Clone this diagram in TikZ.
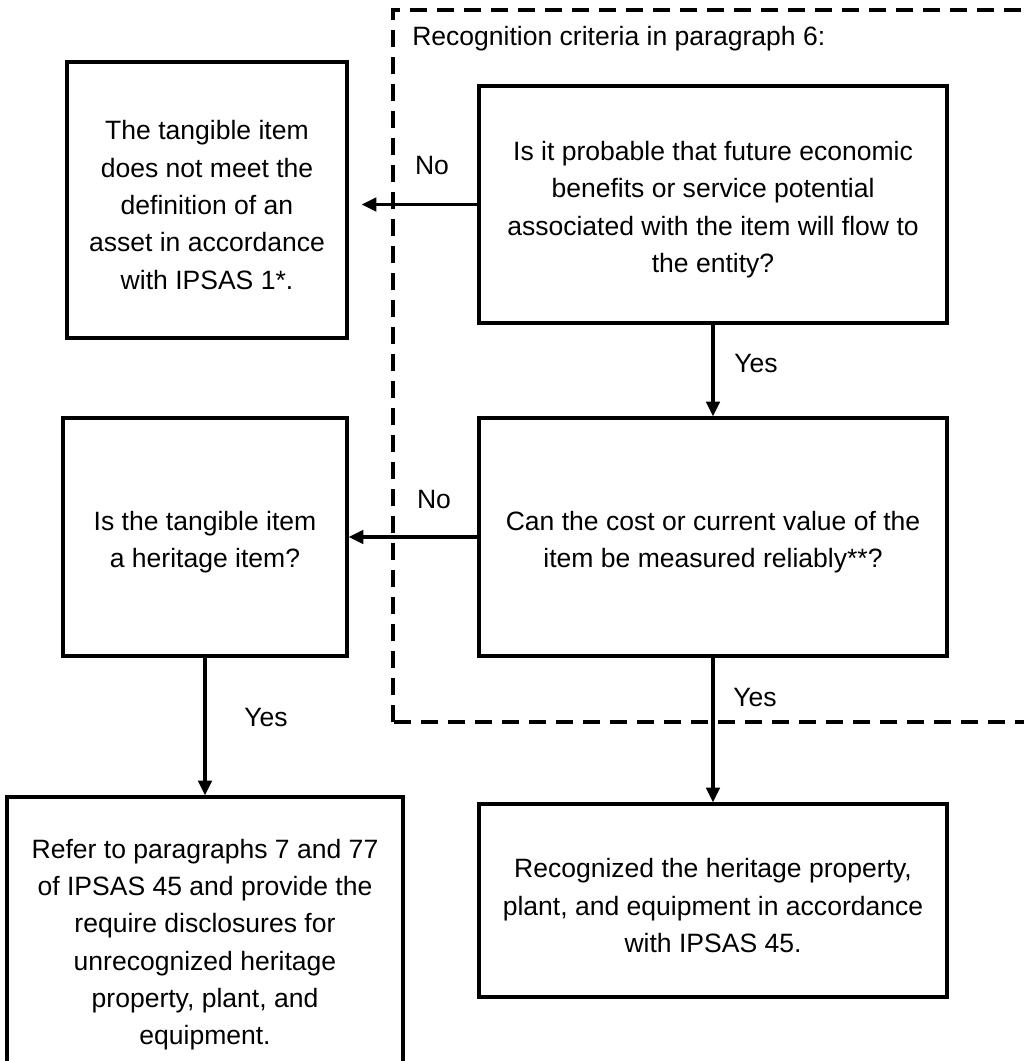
\documentclass[tikz,border=0pt]{standalone}
\usepackage{fontspec}
\setmainfont{Liberation Sans}
\usetikzlibrary{arrows.meta}
\newcommand{\toppad}{\rule{0pt}{22pt}}
\begin{document}
\begin{tikzpicture}[x=0.75pt,y=-0.75pt,
  box/.style={draw=black, line width=2.5pt, rectangle, align=center, inner sep=2pt,
    font=\fontsize{19.9pt}{28pt}\selectfont},
  lbl/.style={font=\fontsize{19.9pt}{28pt}\selectfont, inner sep=0pt},
  arr/.style={line width=2.5pt, -{Triangle[length=11pt,width=10pt]}},
  frame/.style={line width=2.5pt, dash pattern=on 12.75pt off 7.5pt}]
\useasboundingbox[fill=white] (0,0) rectangle (1024,1061);
% dashed recognition-criteria frame
\draw[frame] (393,722) -- (393,10) -- (1040,10) -- (1040,722) -- cycle;
\node[lbl, anchor=west] (crit) at (412,39) {Recognition criteria in paragraph 6:};
% boxes
\node[box, minimum width=210pt, minimum height=207pt] (A) at (207,200)
  {\toppad The tangible item\\does not meet the\\definition of an\\asset in accordance\\with IPSAS 1*.};
\node[box, minimum width=351pt, minimum height=177.75pt] (B) at (713,204.5)
  {\toppad Is it probable that future economic\\benefits or service potential\\associated with the item will flow to\\the entity?};
\node[box, minimum width=351pt, minimum height=178.5pt] (C) at (713,537)
  {\toppad Can the cost or current value of the\\item be measured reliably**?};
\node[box, minimum width=213pt, minimum height=178.5pt] (D) at (205,537)
  {\toppad Is the tangible item\\a heritage item?};
\node[box, minimum width=297pt, minimum height=213.75pt] (E) at (205,939.5)
  {\toppad Refer to paragraphs 7 and 77\\of IPSAS 45 and provide the\\require disclosures for\\unrecognized heritage\\property, plant, and\\equipment.};
\node[box, minimum width=351pt, minimum height=144.75pt] (F) at (713,900.5)
  {\toppad Recognized the heritage property,\\plant, and equipment in accordance\\with IPSAS 45.};
% connectors
\draw[arr, shorten >=9.75pt] (B.west) -- (B.west -| A.east);
\draw[arr] (B.south) -- (C.north);
\draw[arr] (C.west) -- (D.east);
\draw[arr] (C.south) -- (F.north);
\draw[arr] (D.south) -- (E.north);
% labels
\node[lbl] (no1) at (432,165) {No};
\node[lbl] (no2) at (434,499) {No};
\node[lbl] (yes1) at (756,363) {Yes};
\node[lbl] (yes2) at (755,697) {Yes};
\node[lbl] (yes3) at (266,717) {Yes};
\end{tikzpicture}
\end{document}
